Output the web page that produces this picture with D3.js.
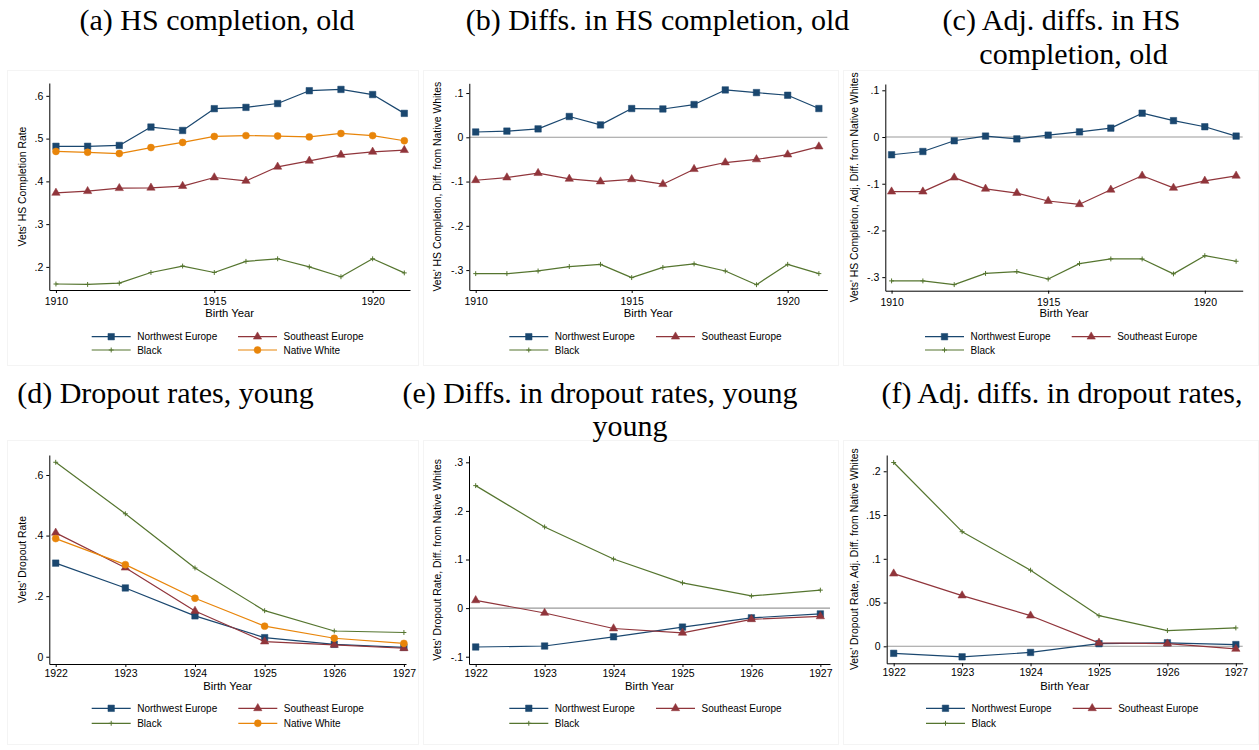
<!DOCTYPE html>
<html>
<head>
<meta charset="utf-8">
<script src="https://cdn.jsdelivr.net/npm/d3@7"></script>
<style>
  body { margin: 0; background: #fff; }
  svg { display: block; }
  .axis text, .lbl { font-family: "Liberation Sans", Arial, sans-serif; fill: #000; }
  .ttl { font-family: "Liberation Serif", "Times New Roman", serif; font-size: 30px; fill: #000; }
</style>
</head>
<body>
<svg id="fig" width="1259" height="750"></svg>
<script>
// ---- birth-year categories ----
const yearsOld = [1910, 1911, 1912, 1913, 1914, 1915, 1916, 1917, 1918, 1919, 1920, 1921];
const yearsYoung = [1922, 1923, 1924, 1925, 1926, 1927];

// ---- (a) HS completion rate, older cohorts ----
const hsNorthwest = [0.482, 0.482, 0.484, 0.527, 0.519, 0.570, 0.573, 0.582, 0.612, 0.615, 0.603, 0.559];
const hsSoutheast = [0.373, 0.377, 0.384, 0.385, 0.389, 0.409, 0.401, 0.434, 0.448, 0.462, 0.469, 0.473];
const hsBlack     = [0.160, 0.159, 0.162, 0.187, 0.202, 0.187, 0.213, 0.219, 0.200, 0.177, 0.219, 0.186];
const hsNative    = [0.470, 0.468, 0.465, 0.479, 0.491, 0.505, 0.507, 0.506, 0.504, 0.512, 0.507, 0.495];

// ---- (b) difference from native whites ----
const hsDiffNorthwest = [0.012, 0.014, 0.019, 0.047, 0.028, 0.065, 0.064, 0.074, 0.107, 0.101, 0.095, 0.065];
const hsDiffSoutheast = [-0.097, -0.091, -0.081, -0.094, -0.100, -0.095, -0.106, -0.072, -0.057, -0.050, -0.039, -0.021];
const hsDiffBlack     = [-0.308, -0.308, -0.302, -0.292, -0.287, -0.317, -0.294, -0.286, -0.302, -0.333, -0.287, -0.308];

// ---- (c) adjusted difference from native whites ----
const hsAdjNorthwest = [-0.038, -0.031, -0.008, 0.002, -0.004, 0.004, 0.011, 0.019, 0.051, 0.035, 0.022, 0.002];
const hsAdjSoutheast = [-0.117, -0.117, -0.087, -0.111, -0.120, -0.137, -0.144, -0.113, -0.083, -0.109, -0.094, -0.083];
const hsAdjBlack     = [-0.308, -0.308, -0.316, -0.292, -0.288, -0.304, -0.271, -0.261, -0.261, -0.293, -0.254, -0.266];

// ---- (d) dropout rate, younger cohorts ----
const dropNorthwest = [0.309, 0.227, 0.135, 0.063, 0.041, 0.031];
const dropSoutheast = [0.409, 0.294, 0.151, 0.050, 0.039, 0.028];
const dropBlack     = [0.642, 0.472, 0.293, 0.152, 0.085, 0.080];
const dropNative    = [0.390, 0.304, 0.193, 0.101, 0.061, 0.044];

// ---- (e) difference from native whites ----
const dropDiffNorthwest = [-0.080, -0.078, -0.059, -0.039, -0.020, -0.012];
const dropDiffSoutheast = [0.016, -0.010, -0.042, -0.051, -0.023, -0.017];
const dropDiffBlack     = [0.252, 0.167, 0.101, 0.052, 0.025, 0.037];

// ---- (f) adjusted difference from native whites ----
const dropAdjNorthwest = [-0.008, -0.012, -0.007, 0.003, 0.004, 0.002];
const dropAdjSoutheast = [0.083, 0.058, 0.035, 0.004, 0.003, -0.003];
const dropAdjBlack     = [0.210, 0.131, 0.087, 0.035, 0.018, 0.021];

// ---- axis ticks ----
const ticksOldYears   = [1910, 1915, 1920];
const ticksYoungYears = [1922, 1923, 1924, 1925, 1926, 1927];
const ticksHS      = [0.2, 0.3, 0.4, 0.5, 0.6];
const ticksHSDiff  = [-0.3, -0.2, -0.1, 0, 0.1];
const ticksDrop    = [0, 0.2, 0.4, 0.6];
const ticksDropDiff = [-0.1, 0, 0.1, 0.2, 0.3];
const ticksDropAdj = [0, 0.05, 0.1, 0.15, 0.2];

// ---- series styles ----
const groupNames = ["Northwest Europe", "Southeast Europe", "Black", "Native White"];
const groupColors = ["#1a476f", "#90353b", "#55752f", "#e8850a"];

const plusSymbol = {
  draw(ctx, size) {
    const r = Math.sqrt(size) / 2;
    ctx.moveTo(-r, 0); ctx.lineTo(r, 0);
    ctx.moveTo(0, -r); ctx.lineTo(0, r);
  }
};
const markerShapes = [
  { type: d3.symbolSquare, size: 42, fill: true },
  { type: d3.symbolTriangle, size: 30, fill: true },
  { type: plusSymbol, size: 24, fill: false },
  { type: d3.symbolCircle, size: 38, fill: true }
];

// Stata-style decimals: ".6", "-.1", "0"
function stataFormat(v) {
  if (Math.abs(v) < 1e-9) return "0";
  const s = String(+v.toFixed(3));
  return s.replace(/^(-?)0\./, "$1.");
}

const svg = d3.select("#fig");

function drawMarker(g, shape, color, cx, cy) {
  g.append("path")
    .attr("d", d3.symbol(shape.type, shape.size)())
    .attr("transform", `translate(${cx},${cy})`)
    .attr("fill", shape.fill ? color : "none")
    .attr("stroke", color)
    .attr("stroke-width", shape.fill ? 0.5 : 1);
}

function drawPanel(p, idx) {
  const clipId = "clip" + idx;
  svg.append("clipPath").attr("id", clipId)
    .append("rect")
    .attr("x", p.frame[0]).attr("y", p.frame[1])
    .attr("width", p.frame[2] - p.frame[0]).attr("height", p.frame[3] - p.frame[1]);

  const g = svg.append("g").attr("clip-path", `url(#${clipId})`);

  g.append("rect")
    .attr("x", p.frame[0] + 0.5).attr("y", p.frame[1] + 0.5)
    .attr("width", p.frame[2] - p.frame[0] - 1).attr("height", p.frame[3] - p.frame[1] - 1)
    .attr("fill", "#fff").attr("stroke", "#f4f4f4");

  const x = d3.scaleLinear().domain(p.xDomain).range([p.left, p.right]);
  const y = d3.scaleLinear().domain(p.yDomain).range([p.bottom, p.top]);

  if (p.zeroLine) {
    g.append("line")
      .attr("x1", p.left).attr("x2", p.right)
      .attr("y1", y(0)).attr("y2", y(0))
      .attr("stroke", "#9a9a9a").attr("stroke-width", 1.1);
  }

  // axes
  const yAxis = g.append("g").attr("class", "axis")
    .attr("transform", `translate(${p.left},0)`)
    .call(d3.axisLeft(y).tickValues(p.yTicks).tickFormat(stataFormat)
      .tickSize(3).tickSizeOuter(0).tickPadding(3));
  yAxis.selectAll("text").attr("font-size", 10.5);

  const xAxis = g.append("g").attr("class", "axis")
    .attr("transform", `translate(0,${p.bottom})`)
    .call(d3.axisBottom(x).tickValues(p.xTicks).tickFormat(d3.format("d"))
      .tickSize(3).tickSizeOuter(0).tickPadding(p.xTickPad));
  xAxis.selectAll("text").attr("font-size", 10.5);

  g.selectAll(".axis path, .axis line").attr("stroke", "#000").attr("stroke-width", 1);

  // axis titles
  g.append("text").attr("class", "lbl")
    .attr("x", (p.left + p.right) / 2).attr("y", p.xTitleY)
    .attr("text-anchor", "middle").attr("font-size", 11.3)
    .text("Birth Year");

  g.append("text").attr("class", "lbl")
    .attr("transform", `translate(${p.yTitleX},${(p.top + p.bottom) / 2}) rotate(-90)`)
    .attr("text-anchor", "middle").attr("dominant-baseline", "middle")
    .attr("font-size", 10.4)
    .text(p.yTitle);

  // series lines, then markers
  const line = d3.line().x(d => x(d[0])).y(d => y(d[1]));
  p.series.forEach(s => {
    const pts = p.years.map((yr, i) => [yr, s.values[i]]);
    g.append("path").datum(pts)
      .attr("d", line)
      .attr("fill", "none")
      .attr("stroke", groupColors[s.group])
      .attr("stroke-width", 1.2)
      .attr("stroke-linejoin", "round");
    pts.forEach(pt => drawMarker(g, markerShapes[s.group], groupColors[s.group], x(pt[0]), y(pt[1])));
  });

  // legend: two columns, filled row by row
  p.series.forEach((s, i) => {
    const col = i % 2, row = Math.floor(i / 2);
    const lx = p.legendCols[col];
    const ly = p.legendRows[row];
    const c = groupColors[s.group];
    g.append("line")
      .attr("x1", lx).attr("x2", lx + 39)
      .attr("y1", ly).attr("y2", ly)
      .attr("stroke", c).attr("stroke-width", 1.2);
    drawMarker(g, markerShapes[s.group], c, lx + 19.5, ly);
    g.append("text").attr("class", "lbl")
      .attr("x", lx + 45.5).attr("y", ly)
      .attr("dominant-baseline", "central")
      .attr("font-size", 10)
      .text(groupNames[s.group]);
  });
}

const topLegendRows = [336.7, 350];
const bottomLegendRows = [708.3, 723.3];

const panels = [
  {
    frame: [7, 70, 419, 366], left: 49.3, right: 410, top: 83, bottom: 290,
    xDomain: [1909.79, 1921.18], yDomain: [0.146, 0.630],
    years: yearsOld, xTicks: ticksOldYears, yTicks: ticksHS, xTickPad: 5, xTitleY: 316.5,
    yTitle: "Vets' HS Completion Rate", yTitleX: 23, zeroLine: false,
    legendCols: [91.7, 238], legendRows: topLegendRows,
    series: [
      { group: 0, values: hsNorthwest }, { group: 1, values: hsSoutheast },
      { group: 2, values: hsBlack }, { group: 3, values: hsNative }
    ]
  },
  {
    frame: [423, 70, 839, 366], left: 469.3, right: 827.3, top: 83.3, bottom: 290,
    xDomain: [1909.795, 1921.27], yDomain: [-0.345, 0.122],
    years: yearsOld, xTicks: ticksOldYears, yTicks: ticksHSDiff, xTickPad: 5, xTitleY: 316.5,
    yTitle: "Vets' HS Completion, Diff. from Native Whites", yTitleX: 438.5, zeroLine: true,
    legendCols: [509.3, 656], legendRows: topLegendRows,
    series: [
      { group: 0, values: hsDiffNorthwest }, { group: 1, values: hsDiffSoutheast },
      { group: 2, values: hsDiffBlack }
    ]
  },
  {
    frame: [843, 70, 1259, 366], left: 885.3, right: 1242.7, top: 84, bottom: 290.7,
    xDomain: [1909.80, 1921.21], yDomain: [-0.329, 0.1135],
    years: yearsOld, xTicks: ticksOldYears, yTicks: ticksHSDiff, xTickPad: 5, xTitleY: 317,
    yTitle: "Vets' HS Completion, Adj. Diff. from Native Whites", yTitleX: 855, zeroLine: true,
    legendCols: [925, 1071.7], legendRows: topLegendRows,
    series: [
      { group: 0, values: hsAdjNorthwest }, { group: 1, values: hsAdjSoutheast },
      { group: 2, values: hsAdjBlack }
    ]
  },
  {
    frame: [7, 440, 419, 745], left: 49.3, right: 406, top: 455, bottom: 664,
    xDomain: [1921.908, 1927.03], yDomain: [-0.024, 0.666],
    years: yearsYoung, xTicks: ticksYoungYears, yTicks: ticksDrop, xTickPad: 2.5, xTitleY: 690,
    yTitle: "Vets' Dropout Rate", yTitleX: 23, zeroLine: false,
    legendCols: [91.7, 238.3], legendRows: bottomLegendRows,
    series: [
      { group: 0, values: dropNorthwest }, { group: 1, values: dropSoutheast },
      { group: 2, values: dropBlack }, { group: 3, values: dropNative }
    ]
  },
  {
    frame: [423, 440, 839, 745], left: 469, right: 830, top: 455.7, bottom: 664,
    xDomain: [1921.903, 1927.14], yDomain: [-0.115, 0.3136],
    years: yearsYoung, xTicks: ticksYoungYears, yTicks: ticksDropDiff, xTickPad: 2.5, xTitleY: 690,
    yTitle: "Vets' Dropout Rate, Diff. from Native Whites", yTitleX: 438.5, zeroLine: true,
    legendCols: [509.3, 656], legendRows: bottomLegendRows,
    series: [
      { group: 0, values: dropDiffNorthwest }, { group: 1, values: dropDiffSoutheast },
      { group: 2, values: dropDiffBlack }
    ]
  },
  {
    frame: [843, 440, 1259, 745], left: 886.7, right: 1242.7, top: 455, bottom: 663.3,
    xDomain: [1921.898, 1927.1], yDomain: [-0.0194, 0.2186],
    years: yearsYoung, xTicks: ticksYoungYears, yTicks: ticksDropAdj, xTickPad: 2.5, xTitleY: 690,
    yTitle: "Vets' Dropout Rate, Adj. Diff. from Native Whites", yTitleX: 855, zeroLine: true,
    legendCols: [926, 1072.7], legendRows: bottomLegendRows,
    series: [
      { group: 0, values: dropAdjNorthwest }, { group: 1, values: dropAdjSoutheast },
      { group: 2, values: dropAdjBlack }
    ]
  }
];

panels.forEach(drawPanel);

// panel captions
const captions = [
  { text: "(a) HS completion, old", x: 217, y: 30 },
  { text: "(b) Diffs. in HS completion, old", x: 657.5, y: 30 },
  { text: "(c) Adj. diffs. in HS", x: 1061.5, y: 30 },
  { text: "completion, old", x: 1073.5, y: 64 },
  { text: "(d) Dropout rates, young", x: 165.5, y: 403 },
  { text: "(e) Diffs. in dropout rates, young", x: 600, y: 403 },
  { text: "young", x: 630, y: 436 },
  { text: "(f) Adj. diffs. in dropout rates,", x: 1062, y: 403 }
];
svg.selectAll("text.ttl").data(captions).enter().append("text")
  .attr("class", "ttl")
  .attr("x", d => d.x).attr("y", d => d.y)
  .attr("text-anchor", "middle")
  .text(d => d.text);
</script>
</body>
</html>
